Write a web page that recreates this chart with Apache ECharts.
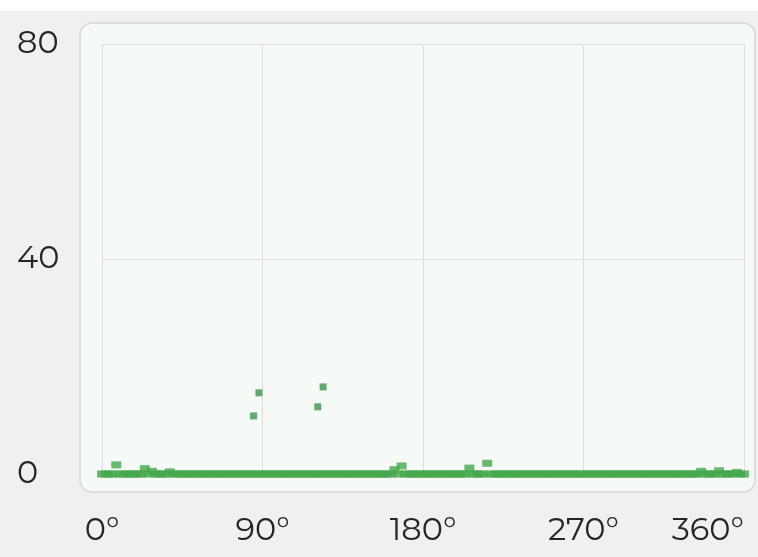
<!DOCTYPE html>
<html>
<head>
<meta charset="utf-8">
<script src="https://cdn.jsdelivr.net/npm/echarts@6/dist/echarts.min.js"></script>
<style>
  html, body { margin: 0; padding: 0; background: #eef1ee; }
  #chart { width: 758px; height: 557px; }
</style>
</head>
<body>
<div id="chart"></div>
<script>
// x ticks (degrees) and y ticks
const xTicks = [0, 90, 180, 270, 360];
const yTicks = [0, 40, 80];

// baseline readings, one every 2 degrees from 0 to 360
const baseValues = [
  0, 0, 0, 0, 1.7, 0, 0, 0, 0, 0, 0, 0, 1.0, 0, 0.5, 0, 0, 0, 0, 0.4,
  0, 0, 0, 0, 0, 0, 0, 0, 0, 0, 0, 0, 0, 0, 0, 0, 0, 0, 0, 0,
  0, 0, 0, 0, 0, 0, 0, 0, 0, 0, 0, 0, 0, 0, 0, 0, 0, 0, 0, 0,
  0, 0, 0, 0, 0, 0, 0, 0, 0, 0, 0, 0, 0, 0, 0, 0, 0, 0, 0, 0,
  0, 0, 0.8, 0, 1.5, 0, 0, 0, 0, 0, 0, 0, 0, 0, 0, 0, 0, 0, 0, 0,
  0, 0, 0, 1.1, 0, 0, 0, 0, 2.0, 0, 0, 0, 0, 0, 0, 0, 0, 0, 0, 0,
  0, 0, 0, 0, 0, 0, 0, 0, 0, 0, 0, 0, 0, 0, 0, 0, 0, 0, 0, 0,
  0, 0, 0, 0, 0, 0, 0, 0, 0, 0, 0, 0, 0, 0, 0, 0, 0, 0, 0, 0,
  0, 0, 0, 0, 0, 0, 0, 0, 0.5, 0, 0, 0, 0, 0.6, 0, 0, 0, 0, 0.3, 0,
  0
];
const baseStep = 2;

// scattered points above the baseline [degree, value]
const outliers = [
  [85, 10.8],
  [88, 15.1],
  [121, 12.5],
  [124, 16.2]
];

const green = '#45a74c';
const fontFamily = 'Montserrat, "DejaVu Sans", sans-serif';

const chart = echarts.init(document.getElementById('chart'));

const option = {
  backgroundColor: '#eef1ee',
  animation: false,
  graphic: [
    {
      type: 'rect', z: -10, silent: true,
      shape: {x: 0, y: 0, width: 758, height: 11},
      style: {fill: '#ffffff'}
    },
    {
      type: 'rect', z: -10, silent: true,
      shape: {x: 80, y: 23, width: 675, height: 469, r: 12},
      style: {fill: '#f6faf6', stroke: '#dcdedc', lineWidth: 2}
    }
  ],
  grid: {left: 102, right: 14, top: 44, bottom: 83},
  xAxis: {
    type: 'value',
    min: 0, max: 360, interval: 90,
    axisLine: {show: false},
    axisTick: {show: false},
    splitLine: {lineStyle: {color: '#dddddd', width: 1}},
    axisLabel: {
      margin: 41,
      fontSize: 32,
      fontFamily: fontFamily,
      color: '#262626',
      alignMaxLabel: 'right',
      formatter: v => xTicks.includes(v) ? v + '°' : ''
    }
  },
  yAxis: {
    type: 'value',
    min: 0, max: 80, interval: 40,
    axisLine: {show: false},
    axisTick: {show: false},
    splitLine: {lineStyle: {color: '#dddddd', width: 1}},
    axisLabel: {
      margin: 85,
      align: 'left',
      fontSize: 32,
      fontFamily: fontFamily,
      color: '#262626',
      formatter: v => yTicks.includes(v) ? String(v) : ''
    }
  },
  series: [
    {
      type: 'scatter',
      symbol: 'rect',
      symbolSize: [10, 7],
      itemStyle: {color: green},
      data: baseValues.map((v, i) => [i * baseStep, v])
    },
    {
      type: 'scatter',
      symbol: 'rect',
      symbolSize: 7,
      itemStyle: {color: '#3f9350'},
      data: outliers
    }
  ]
};

chart.setOption(option);
</script>
</body>
</html>
